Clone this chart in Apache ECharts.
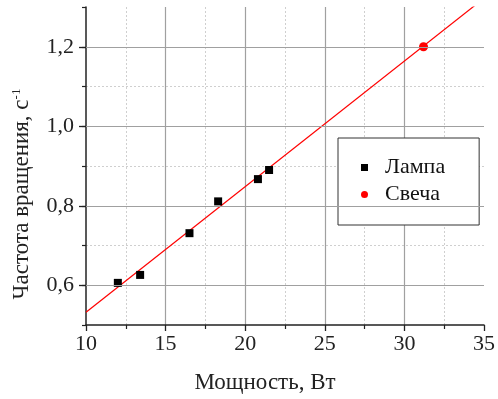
<!DOCTYPE html>
<html>
<head>
<meta charset="utf-8">
<script src="https://cdn.jsdelivr.net/npm/echarts@6/dist/echarts.min.js"></script>
<style>
  html, body { margin: 0; padding: 0; background: #fff; }
  #chart { width: 498px; height: 399px; }
</style>
</head>
<body>
<div id="chart"></div>
<script>
// Measured points: power (W) vs rotation frequency (1/s)
const lampPower = [12.0, 13.4, 16.5, 18.3, 20.8, 21.5];
const lampFreq  = [0.606, 0.626, 0.731, 0.811, 0.867, 0.890];
const candlePower = [31.2];
const candleFreq  = [1.20];

// Linear fit drawn across the whole power range
const fitPower = [10, 35];
const fitFreq  = [0.532, 1.322];

// Axis ticks
const xMin = 10, xMax = 35, xStep = 5;
const yMin = 0.5, yMax = 1.3, yMinorStep = 0.1;
const yMajor = [0.6, 0.8, 1.0, 1.2];

const FONT = 'Liberation Serif';
const zip = (a, b) => a.map((v, i) => [v, b[i]]);
const fmtComma = v => v.toFixed(1).replace('.', ',');

const chart = echarts.init(document.getElementById('chart'), null, { renderer: 'canvas' });

chart.setOption({
  animation: false,
  backgroundColor: '#fff',
  textStyle: { fontFamily: FONT },
  grid: { left: 86, right: 12, top: 7, bottom: 70, containLabel: false },
  legend: {
    orient: 'vertical',
    left: 338,
    top: 138,
    padding: [16, 34, 17, 23],
    itemGap: 0,
    itemWidth: 7,
    itemHeight: 7,
    selectedMode: false,
    backgroundColor: '#fff',
    borderColor: '#333',
    borderWidth: 1,
    borderRadius: 0,
    textStyle: { fontFamily: FONT, fontSize: 22, color: '#111', lineHeight: 27, padding: [0, 0, 0, 12] },
    data: [
      { name: 'Лампа', icon: 'rect' },
      { name: 'Свеча', icon: 'circle' }
    ]
  },
  xAxis: {
    type: 'value',
    min: xMin, max: xMax, interval: xStep,
    name: 'Мощность, Вт',
    nameLocation: 'middle',
    nameGap: 46,
    nameTextStyle: { fontFamily: FONT, fontSize: 23, color: '#222', padding: [0, 40, 0, 0] },
    axisLine: { show: true, onZero: false, lineStyle: { color: '#222', width: 1.5 } },
    axisTick: { show: true, inside: false, length: 6, lineStyle: { color: '#222', width: 1.3 } },
    minorTick: { show: true, splitNumber: 2, length: 4, lineStyle: { color: '#222', width: 1.2 } },
    axisLabel: { fontFamily: FONT, fontSize: 22, color: '#222', margin: 8 },
    splitLine: { show: true, showMinLine: false, showMaxLine: false, lineStyle: { color: '#a0a0a0', width: 1.2 } },
    minorSplitLine: { show: true, lineStyle: { color: '#cfcfcf', width: 1, type: [2, 2] } }
  },
  yAxis: [
    {
      type: 'value',
      min: yMin, max: yMax, interval: yMinorStep,
      position: 'left',
      axisLine: { show: true, onZero: false, lineStyle: { color: '#222', width: 1.5 } },
      axisTick: { show: true, inside: false, length: 4, lineStyle: { color: '#222', width: 1.2 } },
      axisLabel: { show: false },
      splitLine: { show: true, showMinLine: false, showMaxLine: false, lineStyle: { color: '#cfcfcf', width: 1, type: [2, 2] } }
    },
    {
      type: 'value',
      min: yMin, max: yMax,
      position: 'left',
      offset: 0,
      axisLine: { show: false },
      axisTick: { show: true, inside: false, length: 7, customValues: yMajor, lineStyle: { color: '#222', width: 1.3 } },
      axisLabel: { show: true, customValues: yMajor, fontFamily: FONT, fontSize: 22, color: '#222', margin: 12, formatter: fmtComma },
      splitLine: { show: false }
    }
  ],
  graphic: [
    {
      type: 'text',
      x: 22,
      y: 194,
      rotation: Math.PI / 2,
      style: {
        text: 'Частота вращения, с{sup|-1}',
        font: '23px "Liberation Serif"',
        fill: '#222',
        align: 'center',
        verticalAlign: 'middle',
        rich: {
          sup: { font: '13px "Liberation Serif"', fill: '#222', verticalAlign: 'top', padding: [0, 0, 10, 0] }
        }
      }
    }
  ],
  series: [
    {
      name: 'major-grid',
      type: 'line',
      data: [],
      silent: true,
      z: 1,
      markLine: {
        silent: true,
        symbol: 'none',
        label: { show: false },
        lineStyle: { color: '#a0a0a0', width: 1.2, type: 'solid' },
        data: yMajor.map(v => ({ yAxis: v }))
      }
    },
    {
      name: 'fit',
      type: 'line',
      data: zip(fitPower, fitFreq),
      showSymbol: false,
      symbol: 'none',
      clip: true,
      silent: true,
      z: 3,
      lineStyle: { color: '#ff0000', width: 1.2 }
    },
    {
      name: 'Лампа',
      type: 'scatter',
      data: zip(lampPower, lampFreq),
      symbol: 'rect',
      symbolSize: 8,
      z: 4,
      itemStyle: { color: '#000', opacity: 1 }
    },
    {
      name: 'Свеча',
      type: 'scatter',
      data: zip(candlePower, candleFreq),
      symbol: 'circle',
      symbolSize: 9,
      z: 4,
      itemStyle: { color: '#ff0000', opacity: 1 }
    }
  ]
});
</script>
</body>
</html>
